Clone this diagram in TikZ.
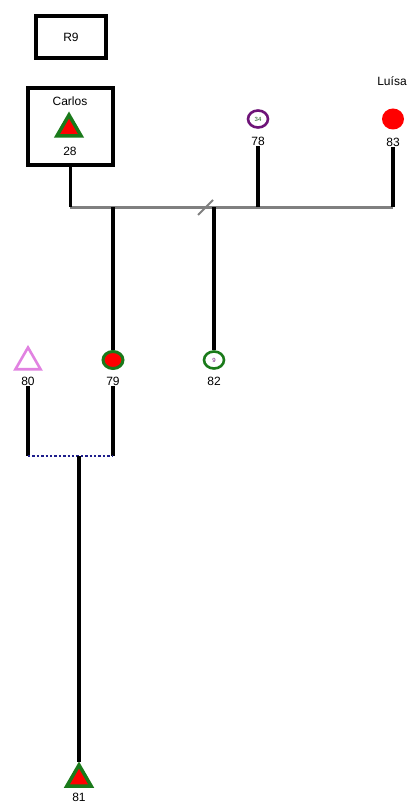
\documentclass[tikz,border=0pt]{standalone}
\usepackage{fontspec}
\setmainfont{Liberation Sans}
\usetikzlibrary{positioning,shapes.geometric}
\definecolor{kingreen}{RGB}{26,122,26}
\definecolor{kinpurple}{RGB}{110,20,120}
\definecolor{kinpink}{RGB}{225,130,225}
\definecolor{kinblue}{RGB}{30,30,140}
\begin{document}
\begin{tikzpicture}[x=1pt, y=-1pt,
  every node/.style={font=\fontsize{12}{14}\selectfont, inner sep=1pt},
  idbox/.style={draw, line width=3.2pt, inner sep=0pt},
  male/.style={regular polygon, regular polygon sides=3, minimum size=30pt, inner sep=0pt},
  female/.style={ellipse, minimum width=20pt, minimum height=17pt, inner sep=0pt},
  affmale/.style={male, fill=red, draw=kingreen, line width=3.5pt},
  line/.style={line width=3.8pt},
  sibline/.style={line width=3pt, draw=gray},
  tiny/.style={font=\fontsize{6}{6}\selectfont, inner sep=0pt}]
\useasboundingbox (0,0) rectangle (418,805);

% top row
\node [idbox, minimum width=70pt, minimum height=42pt] (r9) at (71,37) {R9};
\node [idbox, minimum width=85pt, minimum height=77pt] (carlosbox) at (70.5,126.5) {};
\node (carlos) at (70,101) {Carlos};
\node [affmale, minimum size=28pt] (c28) at (69,129) {};
\node (n28) at (70,151) {28};

\node [female, draw=kinpurple, line width=2.6pt, fill=white] (c78) at (258,119) {};
\node [tiny, text=kingreen!70!black] at (c78) {34};
\node (n78) at (258,141) {78};

\node [female, fill=red, minimum width=22pt, minimum height=21pt] (c83) at (393,119) {};
\node (luisa) at (392,81) {Luísa};
\node (n83) at (393,142) {83};

% sibship
\coordinate (sibL) at (70,207);
\coordinate (sibR) at (393,207);
\draw [sibline] (sibL) -- (sibR);
\draw [line] (carlosbox.south) -- (carlosbox.south |- sibL);
\draw [line] (n78.south) -- (n78.south |- sibR);
\draw [line] (n83.south) -- (n83.south |- sibR);
\draw [gray, line width=2pt] (198,215) -- (213,200);

% children
\node [female, fill=red, draw=kingreen, line width=3pt] (c79) at (113,360) {};
\node (n79) at (113,381) {79};
\node [female, fill=white, draw=kingreen, line width=2.6pt] (c82) at (214,360) {};
\node [tiny, text=kinpurple] at (c82) {9};
\node (n82) at (214,381) {82};
\node [male, draw=kinpink, line width=2.6pt, minimum size=29pt] (c80) at (28,362) {};
\node (n80) at (28,381) {80};
\draw [line] (c79.north |- sibL) -- (c79.north);
\draw [line] (c82.north |- sibL) -- (c82.north);

% mating
\coordinate (mate80) at (28,456);
\coordinate (mate79) at (113,456);
\coordinate (mateC) at (79,456);
\draw [line] (n80.south) -- (mate80);
\draw [line] (n79.south) -- (mate79);
\draw [kinblue, line width=2.4pt, dotted] (mate80) -- (mate79);

% offspring
\node [affmale, minimum size=28pt] (c81) at (79,779) {};
\node (n81) at (79,797) {81};
\draw [line] (mateC) -- (mateC |- c81.north);
\end{tikzpicture}
\end{document}
